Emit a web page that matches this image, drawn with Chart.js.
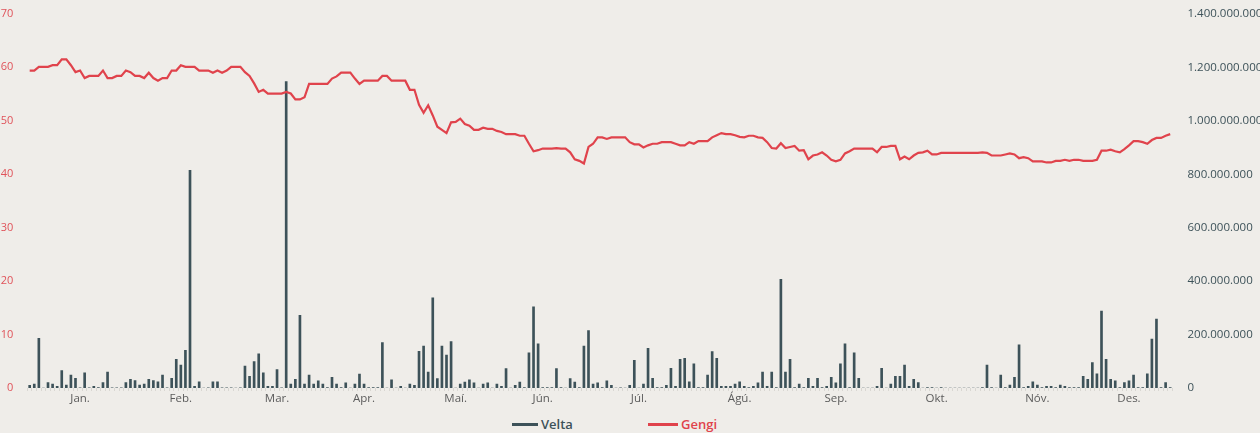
<!DOCTYPE html>
<html lang="is">
<head>
<meta charset="utf-8">
<title>Velta og gengi</title>
<script src="https://cdn.jsdelivr.net/npm/chart.js@4.4.1/dist/chart.umd.min.js"></script>
<style>
  html, body { margin: 0; padding: 0; background: #efede9; }
  .wrap { position: relative; width: 1260px; height: 433px; }
  .chart-box { position: absolute; left: 0; top: 0; width: 1260px; height: 410px; }
  .legend { position: absolute; left: 0; top: 410px; width: 1260px; height: 23px; font-family: 'Open Sans', sans-serif; font-size: 13px; font-weight: 600; }
  .legend span { position: absolute; top: 5px; line-height: 18px; }
  .legend i { position: absolute; top: 13px; height: 3px; display: block; }
</style>
</head>
<body>
<div class="wrap">
  <div class="chart-box"><canvas id="veltaChart" width="1260" height="410"></canvas></div>
  <div class="legend">
    <i style="left:512px;width:26px;background:#3d5259"></i><span style="left:541px;color:#3d5259">Velta</span>
    <i style="left:648px;width:30px;background:#e0434c"></i><span style="left:681px;color:#e0434c">Gengi</span>
  </div>
</div>
<script>
// manudir og fjoldi vidskiptadaga i hverjum manudi
const manudir = ["Jan.", "Feb.", "Mar.", "Apr.", "Maí.", "Jún.", "Júl.", "Ágú.", "Sep.", "Okt.", "Nóv.", "Des."];
const dagafjoldi = [22, 22, 20, 19, 20, 19, 23, 21, 21, 23, 21, 19];

// gengi (vinstri as)
const gengi = [
  59.4, 59.4, 60.1, 60.1, 60.1, 60.4, 60.4, 61.5, 61.5, 60.4,
  59.1, 59.4, 58.0, 58.4, 58.4, 58.4, 59.4, 58.0, 58.0, 58.4,
  58.4, 59.4, 59.1, 58.4, 58.4, 58.0, 59.0, 58.0, 57.5, 58.0,
  58.0, 59.4, 59.4, 60.4, 60.1, 60.1, 60.1, 59.4, 59.4, 59.4,
  59.0, 59.4, 59.0, 59.4, 60.1, 60.1, 60.1, 59.1, 58.4, 57.0,
  55.4, 55.8, 55.1, 55.1, 55.1, 55.1, 55.4, 55.1, 54.0, 54.0,
  54.4, 56.9, 56.9, 56.9, 56.9, 56.9, 57.9, 58.3, 59.0, 59.0,
  59.0, 57.9, 56.9, 57.5, 57.5, 57.5, 57.5, 58.4, 58.4, 57.5,
  57.5, 57.5, 57.5, 55.8, 55.8, 53.0, 51.5, 52.9, 51.0, 48.9,
  48.3, 47.7, 49.7, 49.8, 50.4, 49.4, 49.1, 48.3, 48.3, 48.7,
  48.5, 48.5, 48.1, 47.9, 47.5, 47.5, 47.5, 47.2, 47.2, 45.7,
  44.3, 44.5, 44.8, 44.8, 44.8, 44.9, 44.8, 44.8, 44.1, 42.8,
  42.5, 42.0, 45.1, 45.7, 46.9, 46.9, 46.6, 46.9, 46.9, 46.9,
  46.9, 46.0, 45.6, 45.6, 45.0, 45.4, 45.7, 45.7, 46.0, 46.0,
  46.0, 45.7, 45.4, 45.4, 46.0, 45.7, 46.2, 46.2, 46.2, 46.9,
  47.3, 47.7, 47.5, 47.5, 47.3, 47.0, 46.9, 47.2, 47.2, 46.9,
  46.8, 46.0, 44.9, 44.8, 45.8, 44.9, 45.1, 45.3, 44.4, 44.5,
  42.8, 43.5, 43.7, 44.1, 43.5, 42.7, 42.4, 42.7, 43.9, 44.3,
  44.8, 44.8, 44.8, 44.8, 44.8, 44.1, 45.1, 45.1, 45.3, 45.3,
  42.8, 43.3, 42.8, 43.5, 44.0, 44.1, 44.4, 43.7, 43.7, 44.0,
  44.0, 44.0, 44.0, 44.0, 44.0, 44.0, 44.0, 44.0, 44.1, 44.0,
  43.5, 43.5, 43.5, 43.7, 43.9, 43.7, 43.0, 43.2, 43.0, 42.4,
  42.4, 42.4, 42.2, 42.2, 42.5, 42.5, 42.7, 42.5, 42.7, 42.7,
  42.5, 42.5, 42.5, 42.7, 44.4, 44.4, 44.6, 44.3, 44.1, 44.7,
  45.4, 46.2, 46.2, 46.0, 45.7, 46.4, 46.8, 46.8, 47.2, 47.5
];

// velta i milljonum kr (haegri as)
const veltaMkr = [
  10, 15, 186, 0, 20, 15, 6, 65, 11, 48,
  36, 1, 57, 1, 6, 2, 20, 60, 1, 1,
  1, 20, 32, 28, 11, 15, 32, 28, 23, 48,
  1, 36, 107, 86, 141, 815, 6, 23, 0, 1,
  23, 23, 1, 1, 1, 0, 1, 82, 44, 99,
  128, 57, 6, 6, 69, 1, 1147, 15, 32, 272,
  15, 48, 15, 27, 15, 2, 40, 15, 2, 19,
  0, 15, 52, 15, 2, 2, 2, 170, 0, 31,
  0, 6, 0, 15, 10, 137, 157, 60, 337, 35,
  157, 123, 174, 0, 15, 22, 31, 19, 0, 15,
  19, 0, 15, 6, 73, 0, 10, 22, 2, 132,
  304, 165, 2, 2, 2, 73, 2, 0, 35, 22,
  2, 157, 215, 15, 19, 2, 27, 10, 0, 1,
  0, 10, 104, 0, 15, 148, 36, 2, 2, 10,
  74, 6, 107, 111, 23, 90, 2, 2, 48, 136,
  111, 6, 6, 6, 15, 23, 6, 2, 6, 19,
  60, 6, 60, 2, 407, 60, 107, 2, 15, 2,
  36, 6, 36, 2, 6, 40, 19, 90, 165, 2,
  132, 36, 0, 0, 0, 6, 74, 0, 15, 44,
  44, 86, 6, 32, 20, 0, 2, 2, 0, 2,
  0, 0, 0, 0, 0, 0, 0, 0, 2, 86,
  2, 0, 48, 2, 11, 40, 162, 2, 6, 23,
  11, 2, 6, 6, 2, 11, 6, 2, 2, 2,
  44, 32, 95, 53, 288, 107, 32, 27, 2, 20,
  27, 48, 2, 2, 53, 183, 258, 2, 20, 2
];

// hver dagur faer nafn sins manadar, merki synt a midjum manudi
const dagar = [];
const midjur = {};
manudir.forEach((m, k) => {
  midjur[dagar.length + Math.floor(dagafjoldi[k] / 2)] = m;
  for (let d = 0; d < dagafjoldi[k]; d++) dagar.push(m);
});

const punktar = (n) => Math.round(n).toString().replace(/\B(?=(\d{3})+(?!\d))/g, ".");

Chart.defaults.font.family = "'Open Sans', sans-serif";
Chart.defaults.font.size = 11;

const ctx = document.getElementById("veltaChart");
const veltaChart = new Chart(ctx, {
  type: "bar",
  data: {
    labels: dagar,
    datasets: [
      {
        type: "line",
        label: "Gengi",
        data: gengi,
        yAxisID: "y",
        borderColor: "#e0434c",
        backgroundColor: "#e0434c",
        borderWidth: 2.2,
        pointRadius: 0,
        tension: 0,
        order: 1,
      },
      {
        type: "bar",
        label: "Velta",
        data: veltaMkr.map((v) => v * 1000000),
        yAxisID: "y1",
        backgroundColor: "#3d5259",
        barThickness: 2,
        order: 2,
      },
    ],
  },
  options: {
    responsive: false,
    animation: false,
    layout: { padding: { top: 10, left: 0, right: 0, bottom: 0 } },
    plugins: {
      legend: { display: false },
      tooltip: { enabled: false },
    },
    scales: {
      x: {
        grid: { display: true, drawOnChartArea: false, drawTicks: true, tickLength: 3, color: "#d9d7d2" },
        border: { display: false },
        ticks: {
          autoSkip: false,
          maxRotation: 0,
          padding: 1,
          color: "#5b5b5b",
          font: { size: 11.5 },
          callback: (val, i) => midjur[i] || "",
        },
        afterFit: (scale) => { scale.height = 22; },
      },
      y: {
        position: "left",
        min: 0,
        max: 70,
        grid: { display: false },
        border: { display: false },
        ticks: { stepSize: 10, padding: 6, color: "#e0535a" },
        afterFit: (scale) => { scale.width = 27.4; },
      },
      y1: {
        position: "right",
        min: 0,
        max: 1400000000,
        grid: { display: false },
        border: { display: false },
        ticks: { stepSize: 200000000, padding: 7, color: "#3d5259", font: { size: 11.5 }, callback: (v) => punktar(v) },
        afterFit: (scale) => { scale.width = 87.5; },
      },
    },
  },
});
</script>
</body>
</html>
